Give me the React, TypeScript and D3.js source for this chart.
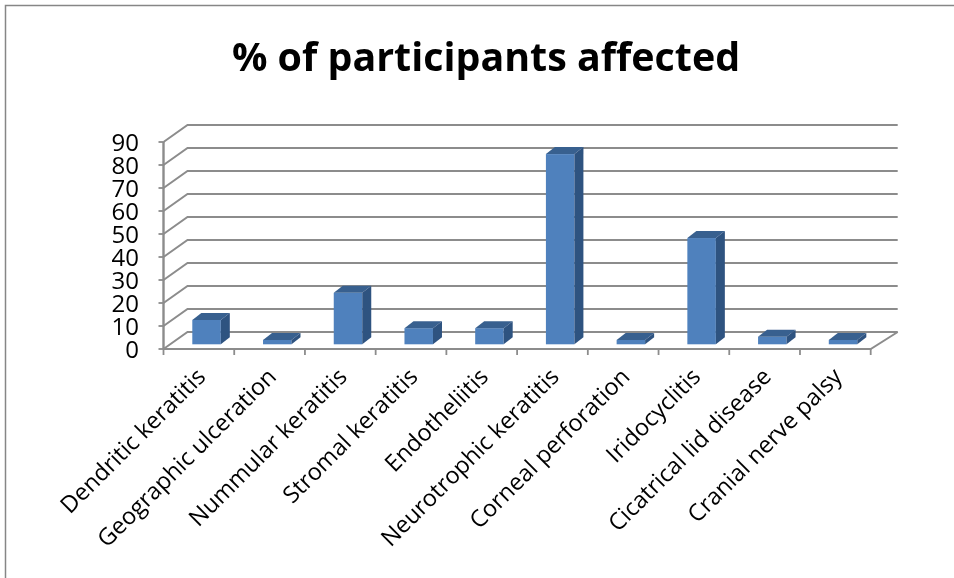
import React, { useEffect, useRef } from 'react';
import * as d3 from 'd3';

const categories = [
  'Dendritic keratitis',
  'Geographic ulceration',
  'Nummular keratitis',
  'Stromal keratitis',
  'Endotheliitis',
  'Neurotrophic keratitis',
  'Corneal perforation',
  'Iridocyclitis',
  'Cicatrical lid disease',
  'Cranial nerve palsy',
];
const values = [10.6, 1.9, 22.4, 7, 7, 82.7, 1.9, 46.2, 3.3, 1.9];
const yTicks = [0, 10, 20, 30, 40, 50, 60, 70, 80, 90];
const title = '% of participants affected';

const App: React.FC = () => {
  const svgRef = useRef<SVGSVGElement>(null);

  useEffect(() => {
    if (!svgRef.current) return;
    const svg = d3.select(svgRef.current);
    svg.selectAll('*').remove();

    const width = 954;
    const height = 578;
    const font = '"Open Sans", sans-serif';

    // front plane of the 3d box, the back wall is shifted by depth
    const x = d3.scaleBand().domain(categories).range([163.5, 870.7]);
    const y = d3.scaleLinear().domain([0, 90]).range([349, 142]);
    const depthX = 24;
    const depthY = 17;
    const barWidth = 28.5;
    const barShift = 7.7;
    const barBase = 344.3;
    const barH = (v: number) => y(0) - y(v);
    const barDx = 9;
    const barDy = 7;

    const defs = svg.append('defs');
    defs.append('filter').attr('id', 'soft')
      .append('feGaussianBlur').attr('stdDeviation', 0.6);
    defs.append('filter').attr('id', 'softText')
      .append('feGaussianBlur').attr('stdDeviation', 0.35);

    // chart frame
    svg.append('path')
      .attr('d', `M${width},5.5H5.5V${height}`)
      .attr('fill', 'none')
      .attr('stroke', '#868686')
      .attr('stroke-width', 1.5);

    const g = svg.append('g').attr('filter', 'url(#soft)');

    // gridlines on back and side wall
    const line = '#8c8c8c';
    yTicks.forEach(t => {
      g.append('path')
        .attr('d', `M${x.range()[0]},${y(t)}L${x.range()[0] + depthX},${y(t) - depthY}H${x.range()[1] + depthX + 3}`)
        .attr('fill', 'none')
        .attr('stroke', line)
        .attr('stroke-width', 2);
      g.append('line')
        .attr('x1', x.range()[0] - 5).attr('x2', x.range()[0])
        .attr('y1', y(t)).attr('y2', y(t))
        .attr('stroke', line).attr('stroke-width', 1.8);
    });

    // axes
    g.append('line')
      .attr('x1', x.range()[0]).attr('x2', x.range()[0])
      .attr('y1', y(90)).attr('y2', y(0))
      .attr('stroke', line).attr('stroke-width', 2.4);
    g.append('path')
      .attr('d', `M${x.range()[0]},${y(0)}H${x.range()[1]}L${x.range()[1] + depthX + 3},${y(0) - depthY}`)
      .attr('fill', 'none').attr('stroke', line).attr('stroke-width', 2);
    [...categories.map(c => x(c) as number), x.range()[1]].forEach(px => {
      g.append('line')
        .attr('x1', px).attr('x2', px)
        .attr('y1', y(0)).attr('y2', y(0) + 6)
        .attr('stroke', line).attr('stroke-width', 1.8);
    });

    // bars
    const bars = g.selectAll('.bar').data(values).enter().append('g').attr('class', 'bar');
    const left = (_: number, i: number) => (x(categories[i]) as number) + (x.bandwidth() - barWidth) / 2 + barShift;
    bars.append('rect')
      .attr('x', left)
      .attr('y', d => barBase - barH(d))
      .attr('width', barWidth)
      .attr('height', d => barH(d))
      .attr('fill', '#4f81bd');
    bars.append('path')
      .attr('d', (d, i) => {
        const l = left(d, i);
        const t = barBase - barH(d);
        return `M${l},${t}l${barDx},${-barDy}h${barWidth}l${-barDx},${barDy}Z`;
      })
      .attr('fill', '#39618f');
    bars.append('path')
      .attr('d', (d, i) => {
        const r = left(d, i) + barWidth;
        const t = barBase - barH(d);
        return `M${r},${t}l${barDx},${-barDy}V${barBase - barDy}l${-barDx},${barDy}Z`;
      })
      .attr('fill', '#2f5280');

    const labels = svg.append('g').attr('filter', 'url(#softText)');

    // y labels
    labels.selectAll('.ytick').data(yTicks).enter().append('text')
      .attr('class', 'ytick')
      .attr('x', 139)
      .attr('y', d => y(d) + 8.5)
      .attr('text-anchor', 'end')
      .attr('font-family', font)
      .attr('font-size', 24)
      .attr('fill', '#000')
      .text(d => d);

    // x labels
    labels.selectAll('.xlabel').data(categories).enter().append('text')
      .attr('class', 'xlabel')
      .attr('transform', d => `translate(${(x(d) as number) + x.bandwidth() / 2 + 8},${378}) rotate(-45)`)
      .attr('text-anchor', 'end')
      .attr('font-family', font)
      .attr('font-size', 23.4)
      .attr('fill', '#000')
      .text(d => d);

    // title
    labels.append('text')
      .attr('x', 486)
      .attr('y', 71)
      .attr('text-anchor', 'middle')
      .attr('font-family', font)
      .attr('font-weight', 700)
      .attr('font-size', 39.4)
      .attr('fill', '#000')
      .text(title);
  }, []);

  return (
    <svg
      ref={svgRef}
      width={954}
      height={578}
      style={{ position: 'fixed', left: 0, top: 0, background: '#fff' }}
    />
  );
};

export default App;
